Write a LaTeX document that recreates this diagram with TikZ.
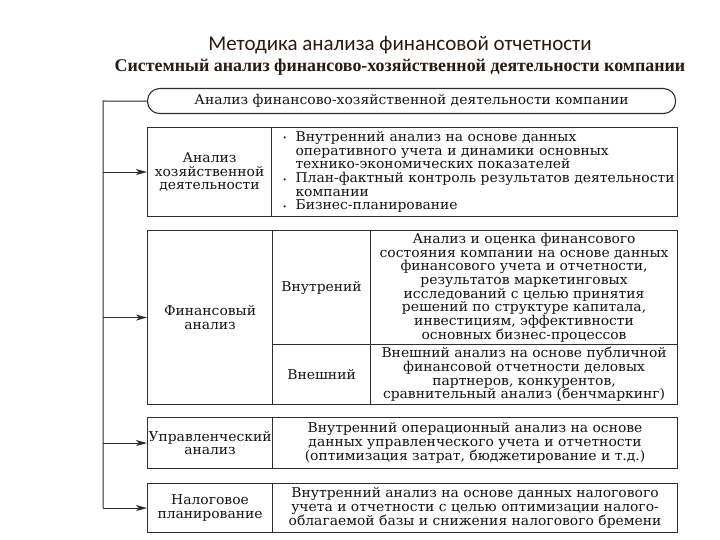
\documentclass[tikz,border=0pt]{standalone}
\usepackage{fontspec}
\setmainfont[FakeStretch=1.03]{DejaVu Serif}
\newfontfamily\titlefont{Carlito}
\newfontfamily\subfont{Liberation Serif}
\usetikzlibrary{arrows.meta}
\definecolor{linec}{HTML}{2E2E2E}
\definecolor{textc}{HTML}{141414}
\definecolor{titlec}{HTML}{2A1A12}
\newcommand\bodyfs{\fontsize{13.5}{13.7}\selectfont}
\newcommand\bul{\hspace*{10pt}\makebox[13pt][l]{\raisebox{0.5pt}{\scriptsize\textbullet}}}
\newcommand\ind{\hspace*{23pt}}
\begin{document}
\begin{tikzpicture}[x=1pt,y=-1pt,
  cell/.style={draw=linec, line width=1.1pt, inner sep=0pt, anchor=north west,
    align=center, font=\bodyfs, text=textc},
  arr/.style={draw=linec, line width=1pt, -{Stealth[length=11pt,width=6pt,inset=3pt]}},
  spineline/.style={draw=linec, line width=1pt}]
\useasboundingbox (0,0) rectangle (720,540);
\fill[white] (0,0) rectangle (720,540);
% titles
\node[font=\titlefont\fontsize{21}{24}\selectfont, text=titlec] (t1) at (400,45) {Методика анализа финансовой отчетности};
\node[font=\subfont\bfseries\fontsize{17.9}{20}\selectfont, text=titlec] (t2) at (400,67) {Системный анализ финансово-хозяйственной деятельности компании};
% top box
\node[cell, rounded corners=12pt, minimum width=528pt, minimum height=25pt] (top) at (147,88) {Анализ финансово-хозяйственной деятельности компании};
% box 1
\node[cell, minimum width=124pt, minimum height=89pt] (h1) at (147,127) {Анализ\\хозяйственной\\деятельности};
\node[cell, minimum width=406pt, minimum height=89pt, text width=404pt, align=left] (h2) at (271,127)
 {\bul Внутренний анализ на основе данных\\
  \ind оперативного учета и динамики основных\\
  \ind технико-экономических показателей\\
  \mbox{\bul План-фактный контроль результатов деятельности}\\
  \ind компании\\
  \bul Бизнес-планирование};
% box 2
\node[cell, minimum width=125pt, minimum height=174pt] (f1) at (147,230) {Финансовый\\анализ};
\node[cell, minimum width=98pt, minimum height=114pt] (f2) at (272,230) {Внутрений};
\node[cell, minimum width=307pt, minimum height=114pt] (f3) at (370,230)
 {Анализ и оценка финансового\\состояния компании на основе данных\\финансового учета и отчетности,\\результатов маркетинговых\\исследований с целью принятия\\решений по структуре капитала,\\инвестициям, эффективности\\основных бизнес-процессов};
\node[cell, minimum width=98pt, minimum height=60pt] (f4) at (272,344) {Внешний};
\node[cell, minimum width=307pt, minimum height=60pt] (f5) at (370,344)
 {Внешний анализ на основе публичной\\финансовой отчетности деловых\\партнеров, конкурентов,\\сравнительный анализ (бенчмаркинг)};
% box 3
\node[cell, minimum width=125pt, minimum height=51pt] (u1) at (147,417) {Управленческий\\анализ};
\node[cell, minimum width=405pt, minimum height=51pt] (u2) at (272,417)
 {Внутренний операционный анализ на основе\\данных управленческого учета и отчетности\\(оптимизация затрат, бюджетирование и т.д.)};
% box 4
\node[cell, minimum width=125pt, minimum height=49pt] (n1) at (147,483) {Налоговое\\планирование};
\node[cell, minimum width=405pt, minimum height=49pt] (n2) at (272,483)
 {Внутренний анализ на основе данных налогового\\учета и отчетности с целью оптимизации налого-\\облагаемой базы и снижения налогового бремени};
% connectors
\coordinate (spine) at (103,101);
\draw[spineline] (top.west) -- (spine) -- (spine |- n1.west);
\draw[arr] (spine |- h1.west) -- (h1.west);
\draw[arr] (spine |- f1.west) -- (f1.west);
\draw[arr] (spine |- u1.west) -- (u1.west);
\draw[arr] (spine |- n1.west) -- (n1.west);
\end{tikzpicture}
\end{document}
